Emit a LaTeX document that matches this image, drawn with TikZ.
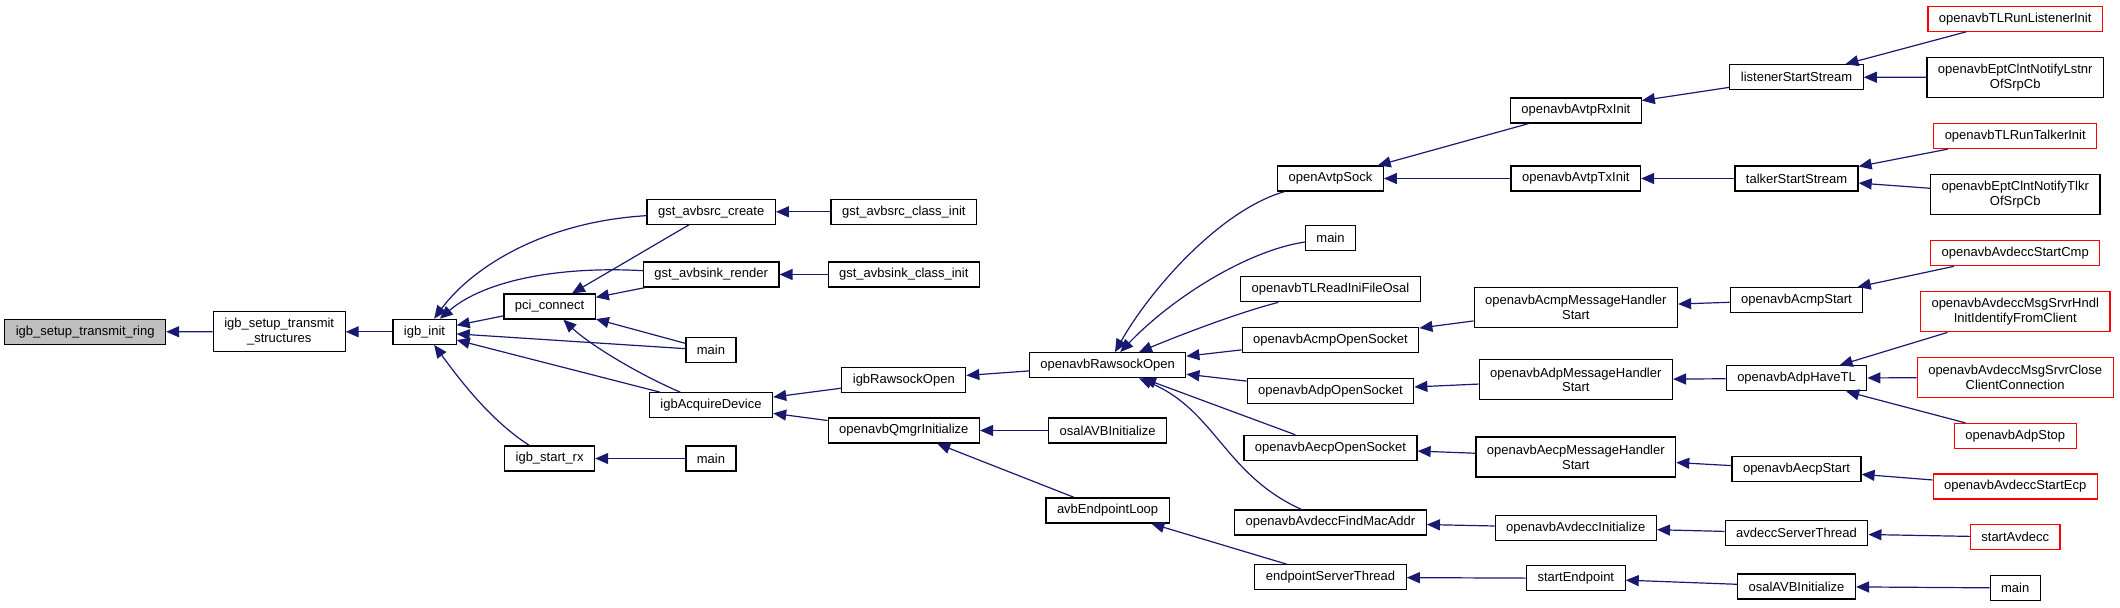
\documentclass[tikz,border=0pt]{standalone}
\usepackage{fontspec}
\setmainfont{Liberation Sans}
\usepackage{tikz}
\usetikzlibrary{positioning,arrows.meta,calc}
\definecolor{edgeblue}{HTML}{191970}
\definecolor{rootgray}{HTML}{BFBFBF}
\definecolor{red}{HTML}{FF0000}

\begin{document}
\begin{tikzpicture}[
    x=0.5pt, y=-0.5pt,
    box/.style={draw=black, line width=0.6pt, fill=white, inner xsep=5.5pt, inner ysep=0pt, minimum height=12.5pt, align=center, font=\fontsize{6.5}{7.35}\selectfont},
    rootbox/.style={box, fill=rootgray},
    redbox/.style={box, draw=red},
    twoline/.style={minimum height=20pt},
    edge/.style={draw=edgeblue, line width=0.6pt, -{Triangle[length=6.5pt, width=5.5pt]}, fill=none},
  ]
    \useasboundingbox (0,0) rectangle (2120,607);

    \node[rootbox] (ring) at (85.2,331.7) {igb\_setup\_transmit\_ring};
    \node[box, twoline] (structs) at (279.2,331.8) {igb\_setup\_transmit\\\_structures};
    \node[box] (init) at (424.5,331.8) {igb\_init};
    \node[box] (pci) at (549.6,306.5) {pci\_connect};
    \node[box] (startrx) at (549.6,458.5) {igb\_start\_rx};
    \node[box] (srccreate) at (711.2,211.8) {gst\_avbsrc\_create};
    \node[box] (sinkrender) at (711.2,274.5) {gst\_avbsink\_render};
    \node[box] (mainA) at (711,350.3) {main};
    \node[box] (acquire) at (711,405.2) {igbAcquireDevice};
    \node[box] (mainB) at (711,458.5) {main};
    \node[box] (srcclass) at (903.8,211.8) {gst\_avbsrc\_class\_init};
    \node[box] (sinkclass) at (903.8,274.5) {gst\_avbsink\_class\_init};
    \node[box] (igbraw) at (903.8,380) {igbRawsockOpen};
    \node[box] (qmgr) at (903.8,430.5) {openavbQmgrInitialize};
    \node[box] (rawsock) at (1107.6,365.2) {openavbRawsockOpen};
    \node[box] (osalA) at (1107.6,430.5) {osalAVBInitialize};
    \node[box] (eploop) at (1107.6,510.5) {avbEndpointLoop};

    \node[box] (avtpsock) at (1330.5,178.5) {openAvtpSock};
    \node[box] (mainC) at (1330.5,238.3) {main};
    \node[box] (readini) at (1330.5,289.3) {openavbTLReadIniFileOsal};
    \node[box] (acmpsock) at (1330.5,339.7) {openavbAcmpOpenSocket};
    \node[box] (adpsock) at (1330.5,390.7) {openavbAdpOpenSocket};
    \node[box] (aecpsock) at (1330.5,447.8) {openavbAecpOpenSocket};
    \node[box] (findmac) at (1330.5,522.5) {openavbAvdeccFindMacAddr};
    \node[box] (epthread) at (1330.5,577.3) {endpointServerThread};

    \node[box] (rxinit) at (1575.8,110.5) {openavbAvtpRxInit};
    \node[box] (txinit) at (1575.8,178.5) {openavbAvtpTxInit};
    \node[box, twoline] (acmpmh) at (1575.8,307.5) {openavbAcmpMessageHandler\\Start};
    \node[box, twoline] (adpmh) at (1575.8,379.7) {openavbAdpMessageHandler\\Start};
    \node[box, twoline] (aecpmh) at (1575.8,457) {openavbAecpMessageHandler\\Start};
    \node[box] (avdeccinit) at (1575.8,527.7) {openavbAvdeccInitialize};
    \node[box] (startep) at (1575.8,578.3) {startEndpoint};

    \node[box] (lstream) at (1796.5,77.2) {listenerStartStream};
    \node[box] (tstream) at (1796.5,178.5) {talkerStartStream};
    \node[box] (acmpstart) at (1796.5,300) {openavbAcmpStart};
    \node[box] (havetl) at (1796.5,378.3) {openavbAdpHaveTL};
    \node[box] (aecpstart) at (1796.5,469.2) {openavbAecpStart};
    \node[box] (avdeccthread) at (1796.5,533.2) {avdeccServerThread};
    \node[box] (osalB) at (1796.5,586.5) {osalAVBInitialize};

    \node[redbox] (runlistener) at (2015.2,18.7) {openavbTLRunListenerInit};
    \node[box, twoline] (lstnrcb) at (2015.2,77.3) {openavbEptClntNotifyLstnr\\OfSrpCb};
    \node[redbox] (runtalker) at (2015.2,136) {openavbTLRunTalkerInit};
    \node[box, twoline] (tlkrcb) at (2015.2,194.5) {openavbEptClntNotifyTlkr\\OfSrpCb};
    \node[redbox] (startcmp) at (2015.2,253.2) {openavbAvdeccStartCmp};
    \node[redbox, twoline] (identify) at (2015.2,311.8) {openavbAvdeccMsgSrvrHndl\\InitIdentifyFromClient};
    \node[redbox, twoline] (closeconn) at (2015.2,377.2) {openavbAvdeccMsgSrvrClose\\ClientConnection};
    \node[redbox] (adpstop) at (2015.2,436) {openavbAdpStop};
    \node[redbox] (startecp) at (2015.2,486.5) {openavbAvdeccStartEcp};
    \node[redbox] (startavdecc) at (2015.2,537.2) {startAvdecc};
    \node[box] (mainD) at (2015.2,588) {main};

    \draw[edge] (structs) -- (ring);
    \draw[edge] (init) -- (structs);
    \draw[edge] (pci) -- (init);
    \draw[edge] (srccreate) .. controls (540,222) and (470,270) .. (init);
    \draw[edge] (sinkrender) .. controls (560,266) and (485,280) .. (init);
    \draw[edge] (mainA) -- (init);
    \draw[edge] (acquire) -- (init);
    \draw[edge] (startrx) .. controls (490,420) and (460,380) .. (init);
    \draw[edge] (srccreate) -- (pci);
    \draw[edge] (sinkrender) -- (pci);
    \draw[edge] (mainA) -- (pci);
    \draw[edge] (acquire) .. controls (640,375) and (590,345) .. (pci);
    \draw[edge] (srcclass) -- (srccreate);
    \draw[edge] (sinkclass) -- (sinkrender);
    \draw[edge] (mainB) -- (startrx);
    \draw[edge] (igbraw) -- (acquire);
    \draw[edge] (qmgr) -- (acquire);
    \draw[edge] (rawsock) -- (igbraw);
    \draw[edge] (osalA) -- (qmgr);
    \draw[edge] (eploop) -- (qmgr);
    \draw[edge] (avtpsock) .. controls (1220,210) and (1150,290) .. (rawsock);
    \draw[edge] (mainC) .. controls (1250,250) and (1175,295) .. (rawsock);
    \draw[edge] (readini) .. controls (1240,312) and (1180,335) .. (rawsock);
    \draw[edge] (acmpsock) -- (rawsock);
    \draw[edge] (adpsock) -- (rawsock);
    \draw[edge] (aecpsock) -- (rawsock);
    \draw[edge] (findmac) .. controls (1225,475) and (1215,410) .. (rawsock);
    \draw[edge] (epthread) -- (eploop);
    \draw[edge] (rxinit) -- (avtpsock);
    \draw[edge] (txinit) -- (avtpsock);
    \draw[edge] (acmpmh) -- (acmpsock);
    \draw[edge] (adpmh) -- (adpsock);
    \draw[edge] (aecpmh) -- (aecpsock);
    \draw[edge] (avdeccinit) -- (findmac);
    \draw[edge] (startep) -- (epthread);
    \draw[edge] (lstream) -- (rxinit);
    \draw[edge] (tstream) -- (txinit);
    \draw[edge] (acmpstart) -- (acmpmh);
    \draw[edge] (havetl) -- (adpmh);
    \draw[edge] (aecpstart) -- (aecpmh);
    \draw[edge] (avdeccthread) -- (avdeccinit);
    \draw[edge] (osalB) -- (startep);
    \draw[edge] (runlistener) -- (lstream);
    \draw[edge] (lstnrcb) -- (lstream);
    \draw[edge] (runtalker) -- (tstream);
    \draw[edge] (tlkrcb) -- (tstream);
    \draw[edge] (startcmp) -- (acmpstart);
    \draw[edge] (identify) -- (havetl);
    \draw[edge] (closeconn) -- (havetl);
    \draw[edge] (adpstop) -- (havetl);
    \draw[edge] (startecp) -- (aecpstart);
    \draw[edge] (startavdecc) -- (avdeccthread);
    \draw[edge] (mainD) -- (osalB);
  \end{tikzpicture}
\end{document}
